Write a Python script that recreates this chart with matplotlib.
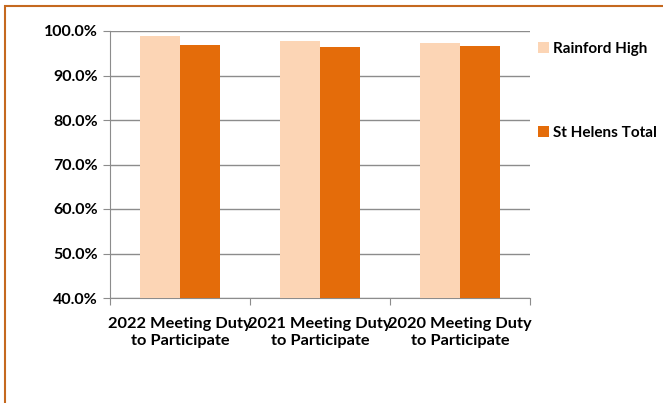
import matplotlib.pyplot as plt
from matplotlib.patches import Rectangle
import numpy as np

categories = ['2022 Meeting Duty\nto Participate', '2021 Meeting Duty\nto Participate',
              '2020 Meeting Duty\nto Participate']
rainford = [98.9, 97.8, 97.2]
st_helens = [96.8, 96.4, 96.6]
series_names = ['Rainford High', 'St Helens Total']
colors = ['#FCD5B5', '#E46C0A']

plt.rcParams['font.family'] = ['Lato', 'DejaVu Sans']
plt.rcParams['font.weight'] = 'bold'

fig = plt.figure(figsize=(6.63, 4.03), dpi=100)
# chart frame (orange border, partly cropped)
fig.patches.append(Rectangle((5 / 663, -0.1), 1.2, 1 - 6 / 403 + 0.1, transform=fig.transFigure,
                             fill=False, edgecolor='#C5691F', linewidth=1.5))

ax = fig.add_axes([110 / 663, 1 - 298 / 403, 420 / 663, 267 / 403])
x = np.arange(len(categories))
w = 0.286
b1 = ax.bar(x - w / 2, rainford, w, color=colors[0], zorder=3)
b2 = ax.bar(x + w / 2, st_helens, w, color=colors[1], zorder=3)

ax.set_ylim(40, 100)
ax.set_xlim(-0.5, 2.5)
ax.set_yticks(np.arange(40, 101, 10))
ax.set_yticklabels([f'{v:.1f}%' for v in np.arange(40, 101, 10)], fontsize=11.5, fontweight='bold')
ax.yaxis.grid(True, color='#8C8C8C', linewidth=1, zorder=0)
ax.set_xticks([-0.5, 0.5, 1.5, 2.5])
ax.set_xticklabels([])
ax.set_xticks(x, minor=True)
ax.set_xticklabels(categories, minor=True, fontsize=11.8, fontweight='bold', linespacing=1.25)
ax.tick_params(axis='x', which='minor', length=0, pad=14)
ax.tick_params(axis='x', which='major', length=5, color='#8C8C8C')
ax.tick_params(axis='y', length=5, color='#8C8C8C', pad=4)
for s in ['top', 'right']:
    ax.spines[s].set_visible(False)
for s in ['left', 'bottom']:
    ax.spines[s].set_color('#8C8C8C')

leg = fig.legend([b1, b2], series_names, loc='upper left', bbox_to_anchor=(538 / 663, 1 - 42 / 403),
                 frameon=False, fontsize=11.0, handlelength=0.7, handleheight=0.7, handletextpad=0.25,
                 labelspacing=4.55, borderaxespad=0, borderpad=0)
for t in leg.get_texts():
    t.set_fontweight('bold')

fig.savefig('out.png', dpi=100)
